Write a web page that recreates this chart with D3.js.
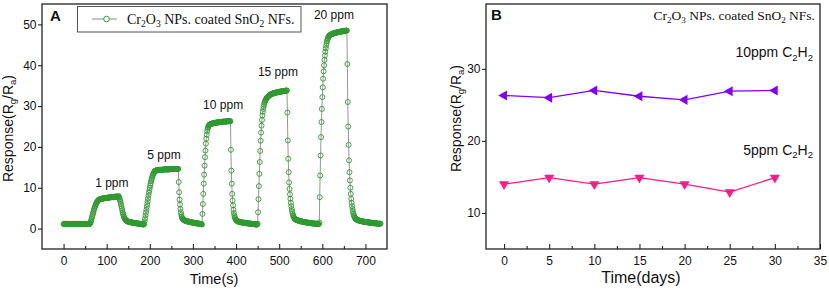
<!DOCTYPE html>
<html><head><meta charset="utf-8">
<script src="https://cdn.jsdelivr.net/npm/d3@7"></script>
<style>body{margin:0;background:#fff}svg{display:block}</style>
</head><body>
<svg id="c" width="829" height="291"></svg>
<script>
// ---------------- DATA ----------------
// Panel A: response vs time, sampled every second; each cycle starts at cycleStart[k] (s)
const sampleStep = 1;
const cycleStart = [0, 62, 187, 322, 450, 593];
const baseline = [
1.1,1.1,1.1,1.2,1.1,1.1,1.1,1.1,1.2,1.1,
1.1,1.1,1.1,1.1,1.2,1.1,1.1,1.1,1.1,1.1,
1.2,1.1,1.1,1.1,1.1,1.1,1.1,1.2,1.1,1.1,
1.1,1.1,1.1,1.2,1.1,1.1,1.1,1.1,1.1,1.2,
1.1,1.1,1.1,1.1,1.1,1.2,1.1,1.1,1.1,1.1,
1.1,1.2,1.1,1.1,1.1,1.1,1.1,1.2,1.1,1.1,
1.1,1.2];
const cycle1ppm = [
// rise
1.3,1.6,2.0,2.4,2.8,3.2,3.6,4.0,4.4,4.8,5.1,5.4,5.7,6.0,6.2,6.4,6.6,6.7,6.9,7.0,7.1,7.1,7.2,
// plateau
7.2,7.2,7.3,7.3,7.3,7.3,7.4,7.4,7.4,7.4,7.4,7.5,7.5,7.5,7.5,7.5,7.5,7.6,7.6,7.6,7.6,7.6,7.6,7.6,
7.7,7.7,7.7,7.7,7.7,7.7,7.7,7.7,7.8,7.8,7.8,7.8,7.8,7.8,7.8,7.8,7.8,7.9,7.9,7.9,
// recovery
7.6,7.3,6.9,6.5,6.0,5.5,5.0,4.5,4.0,3.6,3.2,2.9,2.6,2.4,2.2,2.1,2.0,1.9,1.8,1.8,
1.7,1.7,1.7,1.6,1.6,1.6,1.6,1.5,1.5,1.5,1.5,1.5,1.4,1.4,1.4,1.4,1.4,1.3,1.3,1.3,1.3,1.3,1.3,
1.2,1.2,1.2,1.2,1.2,1.2,1.1,1.1,1.1,1.1,1.1,1.1,1.0,1.0,1.0];
const cycle5ppm = [
1.2,1.8,2.5,3.2,3.9,4.6,5.3,6.0,6.7,7.4,8.1,8.8,9.4,10.0,10.6,11.1,11.6,12.0,12.4,12.8,13.1,13.4,13.6,13.8,14.0,14.1,14.2,
14.2,14.2,14.3,14.3,14.3,14.3,14.3,14.3,14.4,14.4,14.4,14.4,14.4,14.4,14.4,14.4,14.4,14.4,
14.5,14.5,14.5,14.5,14.5,14.5,14.5,14.5,14.5,14.5,14.5,14.5,14.5,14.5,14.5,
14.6,14.6,14.6,14.6,14.6,14.6,14.6,14.6,14.6,14.6,14.6,14.6,14.6,14.6,14.6,14.6,14.6,14.6,14.6,14.6,
11.4,8.9,7.1,5.9,4.8,4.0,3.4,2.9,2.6,2.4,2.3,2.2,2.1,
2.0,2.0,1.9,1.9,1.9,1.8,1.8,1.8,1.7,1.7,1.7,1.7,1.6,1.6,1.6,1.6,1.5,1.5,1.5,1.5,1.5,
1.4,1.4,1.4,1.4,1.4,1.3,1.3,1.3,1.3,1.3,1.3,1.2,1.2,1.2,1.2,1.2,1.1,1.1,1.1,1.1,1.0];
const cycle10ppm = [
3.6,6.0,8.5,11.0,13.2,15.4,17.5,19.1,20.8,22.0,23.0,23.8,24.4,24.8,25.1,25.3,
25.4,25.5,25.5,25.6,25.6,25.7,25.7,25.7,25.8,25.8,25.8,25.8,25.9,25.9,25.9,25.9,25.9,
26.0,26.0,26.0,26.0,26.0,26.0,26.1,26.1,26.1,26.1,26.1,26.1,26.1,26.1,
26.2,26.2,26.2,26.2,26.2,26.2,26.2,26.2,26.2,26.2,26.3,26.3,26.3,26.3,26.3,26.3,26.3,26.3,26.3,
19.3,14.2,11.0,8.5,6.9,5.7,4.6,3.8,3.2,2.8,2.5,2.3,2.1,2.0,1.9,
1.8,1.8,1.7,1.7,1.7,1.6,1.6,1.6,1.6,1.5,1.5,1.5,1.5,1.5,1.4,1.4,1.4,1.4,1.4,1.4,
1.3,1.3,1.3,1.3,1.3,1.3,1.3,1.2,1.2,1.2,1.2,1.2,1.2,1.2,1.1,1.1,1.1,1.1,1.1,1.1,1.1,1.1,
1.0,1.0,1.0,1.0,1.0];
const cycle15ppm = [
1.2,4.0,7.2,10.4,13.4,16.3,19.0,21.5,23.5,25.2,26.6,27.7,28.6,29.3,29.9,30.4,30.8,31.1,31.4,31.6,
31.8,32.0,32.1,32.2,32.3,32.4,32.5,32.6,32.7,32.8,32.8,32.9,32.9,33.0,
33.0,33.1,33.1,33.1,33.2,33.2,33.2,33.3,33.3,33.3,33.3,33.4,33.4,33.4,33.4,33.5,33.5,33.5,33.5,33.5,
33.6,33.6,33.6,33.6,33.6,33.7,33.7,33.7,33.7,33.7,33.7,33.8,33.8,33.8,33.8,
28.4,21.6,17.1,13.8,11.3,9.7,8.4,7.3,6.3,5.5,4.8,4.2,3.7,3.3,3.0,2.8,2.6,2.4,2.3,
2.2,2.2,2.1,2.1,2.0,2.0,2.0,1.9,1.9,1.9,1.8,1.8,1.8,1.8,1.7,1.7,1.7,1.7,1.6,1.6,1.6,1.6,1.6,
1.5,1.5,1.5,1.5,1.5,1.5,1.4,1.4,1.4,1.4,1.4,1.4,1.3,1.3,1.3,1.3,1.3,1.3,1.3,
1.2,1.2,1.2,1.2,1.2,1.2,1.2,1.1,1.1,1.1,1.1,1.1,1.1];
const cycle20ppm = [
1.5,7.7,13.0,17.9,22.4,26.1,29.3,32.2,34.6,36.7,38.5,40.0,41.3,42.4,43.3,44.1,44.8,45.4,45.9,46.3,46.6,46.9,47.1,
47.2,47.3,47.4,47.5,47.5,47.6,47.6,47.7,47.7,47.8,47.8,47.8,47.9,47.9,47.9,48.0,48.0,48.0,48.0,
48.1,48.1,48.1,48.1,48.2,48.2,48.2,48.2,48.2,48.3,48.3,48.3,48.3,48.3,48.4,48.4,48.4,48.4,48.4,48.4,48.5,48.5,48.5,
40.3,31.0,25.0,20.5,16.7,13.8,11.8,10.0,8.5,7.3,6.3,5.5,4.8,4.2,3.7,3.3,3.0,2.8,2.6,2.4,
2.3,2.2,2.2,2.1,2.1,2.0,2.0,2.0,1.9,1.9,1.9,1.9,1.8,1.8,1.8,1.8,1.7,1.7,1.7,1.7,1.7,
1.6,1.6,1.6,1.6,1.6,1.6,1.5,1.5,1.5,1.5,1.5,1.5,1.5,1.4,1.4,1.4,1.4,1.4,1.4,1.4,
1.3,1.3,1.3,1.3,1.3,1.3,1.3,1.3,1.2,1.2,1.2,1.2,1.2,1.2,1.2,1.2,1.2];
const cyclesA = [baseline, cycle1ppm, cycle5ppm, cycle10ppm, cycle15ppm, cycle20ppm];
const concLabels = ["1 ppm", "5 ppm", "10 ppm", "15 ppm", "20 ppm"];
const xTicksA = [0, 100, 200, 300, 400, 500, 600, 700];
const xMinorA = [-50, 50, 150, 250, 350, 450, 550, 650, 750];
const yTicksA = [0, 10, 20, 30, 40, 50];

// Panel B: stability over days
const days = [0, 5, 10, 15, 20, 25, 30];
const resp10ppm = [26.3, 26.0, 27.0, 26.2, 25.7, 26.9, 27.0];
const resp5ppm = [14.0, 14.9, 14.0, 14.9, 14.0, 12.9, 14.9];
const xTicksB = [0, 5, 10, 15, 20, 25, 30, 35];
const xMinorB = [-2.5, 2.5, 7.5, 12.5, 17.5, 22.5, 27.5, 32.5];
const yTicksB = [10, 20, 30];

// ---------------- LAYOUT ----------------
const svg = d3.select("#c");
const SANS = "'Liberation Sans', Arial, sans-serif";
const SERIF = "'Liberation Serif', 'Times New Roman', serif";
const GREEN = "#2f9a2f";

function rich(g, x, y, parts, size, family, anchor, shift) {
  const t = g.append("text").attr("x", x).attr("y", y)
    .attr("font-family", family).attr("font-size", size)
    .attr("text-anchor", anchor || "start").attr("fill", "#111");
  const s = shift || size * 0.28;
  let prevSub = false;
  parts.forEach(p => {
    const sub = Array.isArray(p);
    const txt = sub ? p[0] : p;
    const ts = t.append("tspan").text(txt);
    if (sub) { ts.attr("font-size", size * 0.68).attr("dy", prevSub ? 0 : s); }
    else if (prevSub) { ts.attr("dy", -s); }
    prevSub = sub;
  });
  return t;
}

function panelFrame(x0, x1, y0, y1) {
  svg.append("rect").attr("x", x0).attr("y", y0).attr("width", x1 - x0).attr("height", y1 - y0)
    .attr("fill", "none").attr("stroke", "#222").attr("stroke-width", 1.3);
}

function styleAxis(g) {
  g.select(".domain").remove();
  g.selectAll(".tick line").attr("stroke", "#222").attr("stroke-width", 1.1);
  g.selectAll(".tick text").attr("font-family", SANS).attr("font-size", 12).attr("fill", "#111");
}

// ---------- Panel A ----------
const xA = d3.scaleLinear([-50, 750], [42, 387]);
const yA = d3.scaleLinear([-5, 55], [249, 4]);

const seriesA = [];
cyclesA.forEach((arr, k) => arr.forEach((v, i) => seriesA.push({ t: cycleStart[k] + i * sampleStep, v })));

const gA = svg.append("g");
gA.append("path").datum(seriesA)
  .attr("d", d3.line().x(d => xA(d.t)).y(d => yA(d.v)))
  .attr("fill", "none").attr("stroke", "#8a8a8a").attr("stroke-width", 0.9);
gA.selectAll("circle.pt").data(seriesA).join("circle").attr("class", "pt")
  .attr("cx", d => xA(d.t)).attr("cy", d => yA(d.v)).attr("r", 2.5)
  .attr("fill", "none").attr("stroke", GREEN).attr("stroke-width", 0.9);

panelFrame(42, 387, 4, 249);
gA.append("g").attr("transform", "translate(0,249)")
  .call(d3.axisBottom(xA).tickValues(xTicksA).tickFormat(d3.format("d")).tickSizeInner(-5).tickSizeOuter(0).tickPadding(7.5))
  .call(styleAxis);
gA.append("g").attr("transform", "translate(0,249)")
  .call(d3.axisBottom(xA).tickValues(xMinorA.filter(v => v > -50 && v < 750)).tickFormat("").tickSizeInner(-3).tickSizeOuter(0))
  .call(styleAxis);
gA.append("g").attr("transform", "translate(42,0)")
  .call(d3.axisLeft(yA).tickValues(yTicksA).tickSizeInner(4).tickSizeOuter(0).tickPadding(1.5))
  .call(styleAxis);

// concentration labels (anchored in data space)
const labelAnchorsA = [[112, 10.1], [233, 17.0], [370, 29.3], [497, 37.4], [627, 51.3]];
concLabels.forEach((s, i) => {
  gA.append("text").attr("x", xA(labelAnchorsA[i][0])).attr("y", yA(labelAnchorsA[i][1]))
    .attr("text-anchor", "middle").attr("font-family", SANS).attr("font-size", 12).attr("fill", "#111").text(s);
});

// legend
gA.append("rect").attr("x", 77.5).attr("y", 6.5).attr("width", 223.5).attr("height", 25.5)
  .attr("fill", "#fff").attr("stroke", "#555").attr("stroke-width", 1);
gA.append("line").attr("x1", 92).attr("x2", 117).attr("y1", 19).attr("y2", 19).attr("stroke", "#8a8a8a").attr("stroke-width", 1);
gA.append("circle").attr("cx", 106.5).attr("cy", 19).attr("r", 2.8).attr("fill", "#fff").attr("stroke", GREEN).attr("stroke-width", 1);
rich(gA, 127, 23.5, ["Cr", ["2"], "O", ["3"], " NPs. coated SnO", ["2"], " NFs."], 14, SERIF);

gA.append("text").attr("x", 50).attr("y", 20.5).attr("font-family", SANS).attr("font-weight", "bold")
  .attr("font-size", 15).attr("fill", "#111").text("A");

// axis titles
gA.append("text").attr("x", 214).attr("y", 284).attr("text-anchor", "middle")
  .attr("font-family", SANS).attr("font-size", 14.5).attr("fill", "#111").text("Time(s)");
const ylA = gA.append("g").attr("transform", "translate(12.8,128.5) rotate(-90)");
rich(ylA, 0, 0, ["Response(R", ["g"], "/R", ["a"], ")"], 14, SANS, "middle", 3.5);

// ---------- Panel B ----------
const xB = d3.scaleLinear([-2, 35], [486, 820]);
const yB = d3.scaleLinear([5, 39], [249, 4]);
const gB = svg.append("g");

const lineB = d3.line().x((d, i) => xB(days[i])).y(d => yB(d));
const seriesB = [
  { vals: resp10ppm, color: "#8000ff", rot: -90 },
  { vals: resp5ppm, color: "#ff1a8c", rot: 180 }
];
seriesB.forEach(s => {
  gB.append("path").datum(s.vals).attr("d", lineB).attr("fill", "none")
    .attr("stroke", s.color).attr("stroke-width", 1.3);
  gB.selectAll(null).data(s.vals).join("path")
    .attr("transform", (d, i) => `translate(${xB(days[i])},${yB(d)}) rotate(${s.rot})`)
    .attr("d", d3.symbol(d3.symbolTriangle, 44)())
    .attr("fill", s.color);
});

panelFrame(486, 820, 4, 249);
gB.append("g").attr("transform", "translate(0,249)")
  .call(d3.axisBottom(xB).tickValues(xTicksB).tickFormat(d3.format("d")).tickSizeInner(-5).tickSizeOuter(0).tickPadding(7.5))
  .call(styleAxis);
gB.append("g").attr("transform", "translate(0,249)")
  .call(d3.axisBottom(xB).tickValues(xMinorB.filter(v => v > -2)).tickFormat("").tickSizeInner(-3).tickSizeOuter(0))
  .call(styleAxis);
gB.append("g").attr("transform", "translate(486,0)")
  .call(d3.axisLeft(yB).tickValues(yTicksB).tickSizeInner(4).tickSizeOuter(0).tickPadding(1.5))
  .call(styleAxis);

gB.append("text").attr("x", 491).attr("y", 20).attr("font-family", SANS).attr("font-weight", "bold")
  .attr("font-size", 15).attr("fill", "#111").text("B");
rich(gB, 815, 19.5, ["Cr", ["2"], "O", ["3"], " NPs. coated SnO", ["2"], " NFs."], 13.5, SERIF, "end");
rich(gB, 813, 57, ["10ppm C", ["2"], "H", ["2"]], 14, SANS, "end", 3.5);
rich(gB, 813, 154.5, ["5ppm C", ["2"], "H", ["2"]], 14, SANS, "end", 3.5);

gB.append("text").attr("x", 641).attr("y", 282.5).attr("text-anchor", "middle")
  .attr("font-family", SANS).attr("font-size", 16).attr("fill", "#111").text("Time(days)");
const ylB = gB.append("g").attr("transform", "translate(460.5,118.5) rotate(-90)");
rich(ylB, 0, 0, ["Response(R", ["g"], "/R", ["a"], ")"], 14, SANS, "middle", 3.5);
</script>
</body></html>
